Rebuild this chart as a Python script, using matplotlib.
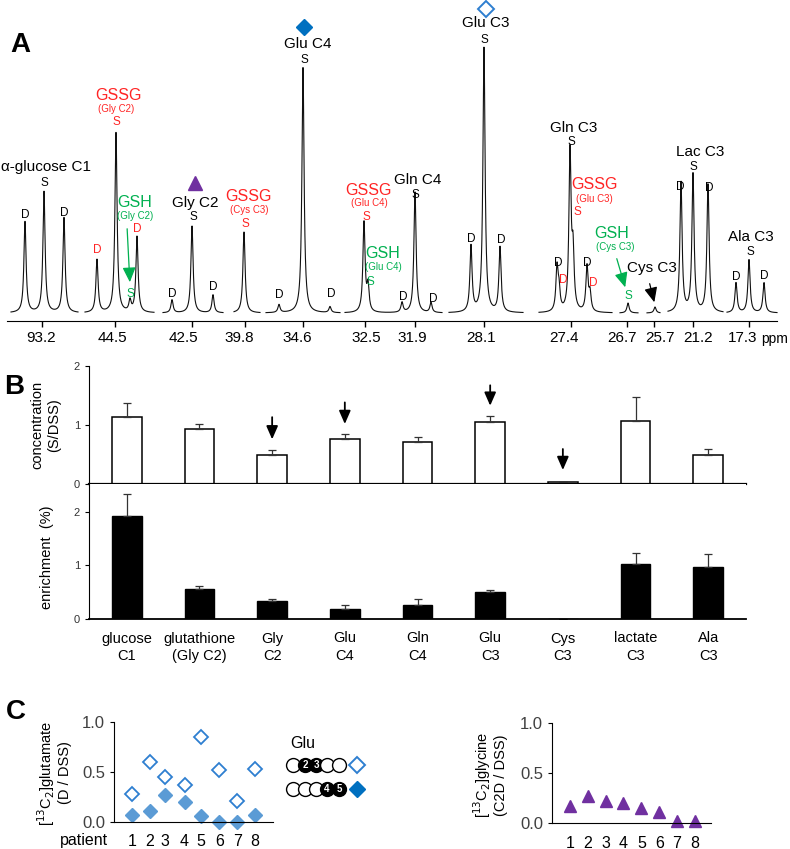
import numpy as np
import matplotlib
matplotlib.use('Agg')
import matplotlib.pyplot as plt

plt.rcParams['font.family'] = ['Liberation Sans', 'DejaVu Sans']

RED = '#ff2424'
GREEN = '#00b050'
BLUE = '#0070c0'
LBLUE = '#5b9bd5'
OBLUE = '#2e7fd0'
PURPLE = '#7030a0'

#%% panel A data: spectrum pieces (x units are arbitrary positions along the broken axis)
seg_start = [11, 85, 163, 234, 266, 345, 449, 539, 620, 647, 668, 727]
seg_end = [78, 154, 223, 260, 340, 442, 523, 612, 638, 660, 723, 777]
peak_x = [25, 44, 64, 97, 116, 130, 137, 172, 192, 213, 244, 279, 303, 330,
          364, 368, 402, 415, 431, 471, 484, 500, 557, 559, 570, 573, 587, 590,
          628, 655, 681, 693, 708, 736, 749, 764]
peak_h = [91, 121, 95, 53, 180, 11, 76, 13, 87, 18, 81, 8, 246, 6,
          90, 25, 10, 121, 10, 66, 265, 65, 43, 20, 159, 55, 45, 18,
          10, 6, 130, 138, 128, 30, 53, 30]
ppm_pos = [42, 115, 192, 245, 303, 365, 415, 484, 571, 627, 654, 693, 749]
ppm_label_pos = [41, 112, 183, 239, 297, 366, 412, 481, 564, 622, 660, 698, 743]
ppm_labels = ['93.2', '44.5', '42.5', '39.8', '34.6', '32.5', '31.9', '28.1',
              '27.4', '26.7', '25.7', '21.2', '17.3']

#%% panel B data
metabolites = ['glucose\nC1', 'glutathione\n(Gly C2)', 'Gly\nC2', 'Glu\nC4', 'Gln\nC4',
               'Glu\nC3', 'Cys\nC3', 'lactate\nC3', 'Ala\nC3']
conc = [1.14, 0.94, 0.50, 0.76, 0.71, 1.05, 0.03, 1.07, 0.49]
conc_err = [0.24, 0.08, 0.08, 0.08, 0.08, 0.10, 0.0, 0.40, 0.11]
enrich = [1.92, 0.56, 0.34, 0.18, 0.26, 0.51, 0.0, 1.03, 0.98]
enrich_err = [0.41, 0.05, 0.04, 0.08, 0.11, 0.04, 0.0, 0.21, 0.24]
arrow_idx = [2, 3, 5, 6]
arrow_from = [1.18, 1.43, 1.72, 0.64]
arrow_to = [0.71, 0.97, 1.28, 0.19]

#%% panel C data
patients = ['1', '2', '3', '4', '5', '6', '7', '8']
patient_pos = [1, 2, 2.85, 3.95, 4.85, 5.9, 6.9, 7.9]
glu_c3 = [0.28, 0.60, 0.45, 0.37, 0.85, 0.52, 0.21, 0.53]
glu_c4 = [0.07, 0.11, 0.27, 0.20, 0.06, 0.0, 0.0, 0.07]
gly_pos = [1, 2, 3, 4, 5, 6, 7, 8]
gly_c2 = [0.17, 0.27, 0.22, 0.20, 0.15, 0.11, 0.02, 0.02]

W, H = 790, 849
fig = plt.figure(figsize=(W / 100, H / 100), dpi=100)

def frac(x0, y0, x1, y1):
  return [x0 / W, 1 - y1 / H, (x1 - x0) / W, (y1 - y0) / H]

#%% A: spectrum
sp = fig.add_axes(frac(0, 0, W, 330))
sp.set_xlim(0, W)
sp.set_ylim(-17, 313)
g = 1.3
for a, b in zip(seg_start, seg_end):
  xs = np.linspace(a, b, 600)
  ys = np.zeros_like(xs)
  for px, ph in zip(peak_x, peak_h):
    if a <= px <= b:
      ys += ph * g ** 2 / ((xs - px) ** 2 + g ** 2)
  sp.plot(xs, ys, color='#111111', lw=0.8)
for s in ['top', 'right', 'left']:
  sp.spines[s].set_visible(False)
sp.spines['bottom'].set_position(('data', -8))
sp.spines['bottom'].set_bounds(7, 777)
sp.set_yticks([])
# tick marks as minor ticks, labels as major ticks (labels sit a bit off their marks)
sp.set_xticks(ppm_pos, minor=True)
sp.set_xticks(ppm_label_pos, ppm_labels)
sp.tick_params(axis='x', which='minor', length=4, width=1)
sp.tick_params(axis='x', which='major', length=0, pad=7, labelsize=11)
sp.patch.set_alpha(0)

#%% B: concentration
ax1 = fig.add_axes(frac(89, 366, 746, 484))
x = np.arange(len(metabolites))
ax1.bar(x, conc, width=0.41, color='white', edgecolor='black', lw=1.1,
        yerr=[np.zeros(len(conc)), conc_err],
        error_kw=dict(ecolor='#333333', elinewidth=0.9, capsize=3, capthick=0.9))
for i, y0, y1 in zip(arrow_idx, arrow_from, arrow_to):
  ax1.annotate('', xy=(i, y1), xytext=(i, y0),
               arrowprops=dict(arrowstyle='-|>,head_width=0.35,head_length=0.8',
                               color='black', lw=1.3))
ax1.set_xlim(-0.52, 8.52)
ax1.set_ylim(0, 2)
ax1.set_yticks([0, 1, 2])
ax1.set_xticks([])
for s in ['top', 'right']:
  ax1.spines[s].set_visible(False)
ax1.spines['bottom'].set_linewidth(1.6)
ax1.tick_params(axis='y', length=3, labelsize=8, labelcolor='#333333')

#%% B: enrichment
ax2 = fig.add_axes(frac(89, 484, 746, 619))
ax2.bar(x, enrich, width=0.41, color='black', edgecolor='black', lw=1.0,
        yerr=[np.zeros(len(enrich)), enrich_err],
        error_kw=dict(ecolor='#333333', elinewidth=0.9, capsize=3, capthick=0.9))
ax2.set_xlim(-0.52, 8.52)
ax2.set_ylim(0, 2.52)
ax2.set_yticks([0, 1, 2])
ax2.set_xticks(x, metabolites)
for s in ['top', 'right']:
  ax2.spines[s].set_visible(False)
ax2.spines['bottom'].set_linewidth(1.3)
ax2.tick_params(axis='y', length=3, labelsize=8, labelcolor='#333333')
ax2.tick_params(axis='x', length=0, pad=9, labelsize=10.5)
for t_ in ax2.get_xticklabels():
  t_.set_linespacing(1.3)

#%% C: glutamate
ax3 = fig.add_axes(frac(114, 722, 273, 822))
ax3.plot(patient_pos, glu_c3, 'D', ms=7, mfc='white', mec=OBLUE, mew=1.3, clip_on=False)
ax3.plot(patient_pos, glu_c4, 'D', ms=7, mfc=LBLUE, mec=LBLUE, clip_on=False)
ax3.set_xlim(0, 8.9)
ax3.set_ylim(0, 1.0)

ax4 = fig.add_axes(frac(552, 723, 711, 823))
ax4.plot(gly_pos, gly_c2, '^', ms=9, color=PURPLE, clip_on=False)
ax4.set_xlim(0, 8.9)
ax4.set_ylim(0, 1.0)

for ax, pos in [(ax3, patient_pos), (ax4, gly_pos)]:
  for s in ['top', 'right']:
    ax.spines[s].set_visible(False)
  ax.set_yticks([0, 0.5, 1.0], ['0.0', '0.5', '1.0'])
  ax.set_xticks(pos, patients)
  ax.tick_params(axis='y', length=3, labelsize=12, labelcolor='#404040')
  ax.tick_params(axis='x', length=0, pad=9, labelsize=11.5)
  ax.patch.set_alpha(0)

#%% overlay for annotations (pixel coordinates)
ov = fig.add_axes([0, 0, 1, 1])
ov.set_xlim(0, W)
ov.set_ylim(H, 0)
ov.axis('off')

def t(x, y, s, c='black', fs=11, **kw):
  ov.text(x, y, s, color=c, fontsize=fs, ha=kw.pop('ha', 'center'),
          va=kw.pop('va', 'center'), **kw)

t(20, 45, 'A', fs=20, weight='bold')
t(14, 387, 'B', fs=20, weight='bold')
t(16, 712, 'C', fs=20, weight='bold')

# peak labels
labels = [
  (46, 167, '\u03b1-glucose C1', 'black', 11), (44, 183, 'S', 'black', 8.5),
  (25, 215, 'D', 'black', 8.5), (64, 213, 'D', 'black', 8.5),
  (118, 95, 'GSSG', RED, 11.5), (116, 109, '(Gly C2)', RED, 7), (116, 122, 'S', RED, 8.5),
  (97, 250, 'D', RED, 8.5), (137, 229, 'D', RED, 8.5),
  (135, 202, 'GSH', GREEN, 11.5), (135, 216, '(Gly C2)', GREEN, 7), (130, 294, 'S', GREEN, 8.5),
  (172, 294, 'D', 'black', 8.5), (195, 203, 'Gly C2', 'black', 11), (193, 217, 'S', 'black', 8.5),
  (213, 287, 'D', 'black', 8.5),
  (249, 196, 'GSSG', RED, 11.5), (249, 210, '(Cys C3)', RED, 7), (245, 224, 'S', RED, 8.5),
  (279, 295, 'D', 'black', 8.5),
  (308, 44, 'Glu C4', 'black', 11), (304, 60, 'S', 'black', 8.5),
  (331, 294, 'D', 'black', 8.5),
  (369, 190, 'GSSG', RED, 11.5), (369, 203, '(Glu C4)', RED, 7), (366, 217, 'S', RED, 8.5),
  (383, 253, 'GSH', GREEN, 11.5), (383, 267, '(Glu C4)', GREEN, 7), (370, 282, 'S', GREEN, 8.5),
  (403, 297, 'D', 'black', 8.5), (418, 180, 'Gln C4', 'black', 11), (415, 195, 'S', 'black', 8.5),
  (433, 299, 'D', 'black', 8.5),
  (471, 239, 'D', 'black', 8.5), (501, 240, 'D', 'black', 8.5),
  (486, 23, 'Glu C3', 'black', 11), (484, 40, 'S', 'black', 8.5),
  (574, 128, 'Gln C3', 'black', 11), (571, 142, 'S', 'black', 8.5),
  (594, 184, 'GSSG', RED, 11.5), (594, 199, '(Glu C3)', RED, 7), (577, 212, 'S', RED, 8.5),
  (558, 263, 'D', 'black', 8.5), (587, 263, 'D', 'black', 8.5),
  (563, 280, 'D', RED, 8.5), (593, 283, 'D', RED, 8.5),
  (612, 233, 'GSH', GREEN, 11.5), (615, 247, '(Cys C3)', GREEN, 7), (628, 296, 'S', GREEN, 8.5),
  (652, 268, 'Cys C3', 'black', 11),
  (700, 152, 'Lac C3', 'black', 11), (693, 167, 'S', 'black', 8.5),
  (680, 187, 'D', 'black', 8.5), (709, 188, 'D', 'black', 8.5),
  (751, 237, 'Ala C3', 'black', 11), (750, 252, 'S', 'black', 8.5),
  (736, 277, 'D', 'black', 8.5), (764, 276, 'D', 'black', 8.5),
]
for lx, ly, s, c, fs in labels:
  t(lx, ly, s, c, fs)

t(761, 339, 'ppm', fs=10, ha='left')

# arrows in spectrum
for (x0, y0, x1, y1, c) in [(127, 226, 130, 285, GREEN), (616, 256, 626, 290, GREEN),
                            (649, 281, 655, 305, 'black')]:
  ov.annotate('', xy=(x1, y1), xytext=(x0, y0),
              arrowprops=dict(arrowstyle='-|>,head_width=0.4,head_length=0.9',
                              color=c, lw=0.9))

# symbols above peaks
ov.plot([195], [183], '^', ms=10, color=PURPLE)
ov.plot([304], [27], 'D', ms=8, color=BLUE)
ov.plot([486], [9], 'D', ms=8, mfc='white', mec=OBLUE, mew=1.4)

# axis titles
t(46, 425, 'concentration\n(S/DSS)', fs=10.5, rotation=90, linespacing=1.25)
t(47, 557, 'enrichment  (%)', fs=10.5, rotation=90)
t(54, 773, '[$^{13}$C$_2$]glutamate\n(D / DSS)', fs=10.5, rotation=90, linespacing=1.1)
t(490, 775, '[$^{13}$C$_2$]glycine\n(C2D / DSS)', fs=10.5, rotation=90, linespacing=1.1)
t(84, 841, 'patient', fs=11.5)

# Glu label legend
t(290, 743, 'Glu', fs=11.5, ha='left')
circ_x = [293, 305, 316, 327, 339]
for row_y, filled, diamond_fill in [(765, {1: '2', 2: '3'}, 'white'),
                                    (789, {3: '4', 4: '5'}, BLUE)]:
  for k, cx in enumerate(circ_x):
    if k in filled:
      ov.plot([cx], [row_y], 'o', ms=10, mfc='black', mec='black', mew=1.0)
      t(cx, row_y + 0.5, filled[k], c='white', fs=7, weight='bold')
    else:
      ov.plot([cx], [row_y], 'o', ms=10, mfc='white', mec='black', mew=1.0)
  if diamond_fill == 'white':
    ov.plot([357], [row_y], 'D', ms=8, mfc='white', mec=OBLUE, mew=1.4)
  else:
    ov.plot([357], [row_y], 'D', ms=8, color=BLUE)

fig.savefig('out.png', dpi=100)
